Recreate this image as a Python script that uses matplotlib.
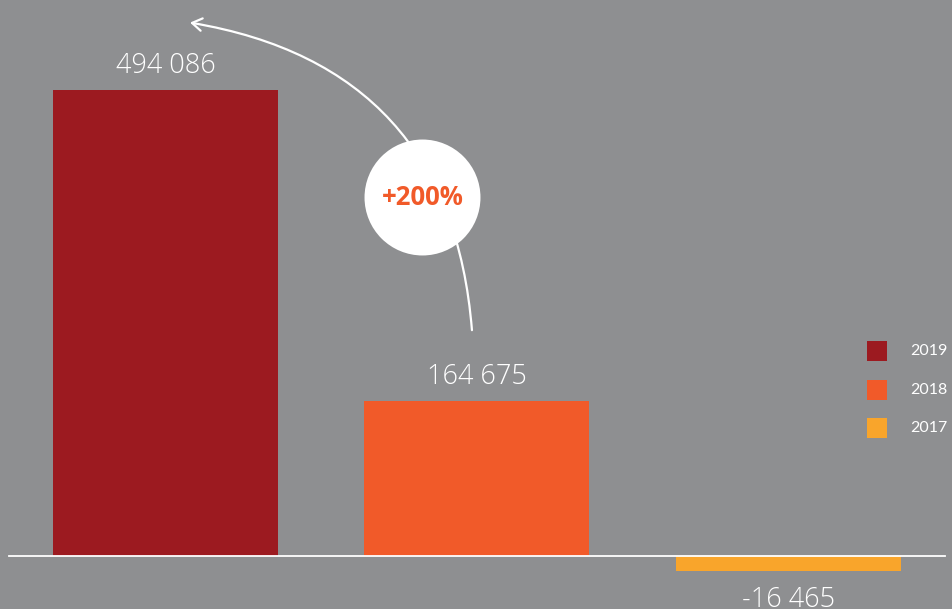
import matplotlib.pyplot as plt

# values
years = ['2019', '2018', '2017']
values = [494086, 164675, -16465]
labels = ['494 086', '164 675', '-16 465']
colors = ['#9c1a20', '#f15a29', '#f9a52b']
growth_label = '+200%'

bg = '#8e8f91'

fig = plt.figure(figsize=(9.52, 6.09), dpi=100, facecolor=bg)
ax = fig.add_axes([0, 0, 1, 1])
ax.set_facecolor(bg)

x = list(range(len(values)))
ax.bar(x, values, width=0.722, color=colors, zorder=2)

# value labels above / below bars
for xi, v, lab in zip(x, values, labels):
    off = 25500 if v >= 0 else -30000
    ax.text(xi, v + off, lab, ha='center', va='center', color='white',
            fontsize=19.5, family='Open Sans', fontweight='light', zorder=4)

# white baseline
ax.axhline(0, xmin=9 / 952, xmax=945 / 952, color='white', lw=1.3, zorder=3)

ax.set_xlim(-0.531, 2.525)
ax.set_ylim(-56500, 590000)
ax.axis('off')

# curved arrow from the 2018 bar up to the 2019 bar
ax.annotate('', xy=(0.079, 566000), xytext=(0.984, 239500),
            arrowprops=dict(arrowstyle='->,head_length=0.7,head_width=0.45',
                            connectionstyle='arc3,rad=0.39',
                            color='white', lw=1.6, shrinkA=0, shrinkB=0),
            zorder=5)

# white circle with the growth figure
ax.scatter([0.825], [380500], s=6970, color='white', zorder=6, linewidths=0)
ax.text(0.825, 380500, growth_label, ha='center', va='center', color='#f15a29',
        fontsize=18.5, family='Open Sans', fontweight='bold', zorder=7)

# legend on the right (partly cut off at the edge like the original)
for i, (yr, c) in enumerate(zip(years, colors)):
    yy = 1 - (351 + i * 38.5) / 609
    ax.scatter([876.5 / 952], [yy], s=228, marker='s', color=c,
               transform=ax.transAxes, linewidths=0, clip_on=False, zorder=5)
    ax.text(910 / 952, yy, yr, ha='left', va='center', color='white',
            fontsize=11.5, family='Lato', transform=ax.transAxes, zorder=5)

fig.savefig('out.png', dpi=100, facecolor=bg)
